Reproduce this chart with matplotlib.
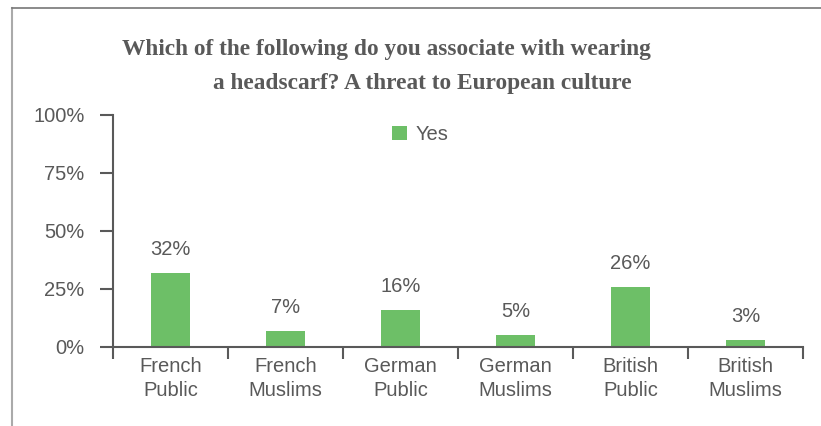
import numpy as np
from matplotlib import pyplot as plt
from matplotlib.lines import Line2D

categories = ["French\nPublic", "French\nMuslims", "German\nPublic",
              "German\nMuslims", "British\nPublic", "British\nMuslims"]
yes_values = [32, 7, 16, 5, 26, 3]
y_ticks = [0, 25, 50, 75, 100]
title_lines = ["Which of the following do you associate with wearing",
               "a headscarf? A threat to European culture"]

grey = "#595959"
green = "#6dbf67"

plt.rcParams['font.family'] = ['Liberation Sans', 'DejaVu Sans']

fig = plt.figure(figsize=(8.21, 4.26), dpi=100)
ax = fig.add_axes([113/821, 1 - 347/426, (803-113)/821, (347-115)/426])

x = np.arange(len(categories))
ax.bar(x, yes_values, width=0.34, color=green, label="Yes", zorder=2)

for xi, v in zip(x, yes_values):
    ax.text(xi, v + 6, f"{v}%", ha="center", va="bottom", fontsize=14.5, color=grey)

ax.set_xlim(-0.5, len(categories) - 0.5)
ax.set_ylim(0, 100)
ax.set_yticks(y_ticks)
ax.set_yticklabels([f"{t}%" for t in y_ticks], fontsize=14.5, color=grey)
ax.set_xticks(x)
ax.set_xticklabels(categories, fontsize=14.5, color=grey, linespacing=1.35)
ax.tick_params(axis="x", length=0, pad=7)
ax.tick_params(axis="y", length=9.5, width=1.5, color=grey, pad=11)

# tick marks between categories
ax.set_xticks(np.arange(-0.5, len(categories)), minor=True)
ax.tick_params(axis="x", which="minor", length=8.5, width=1.5, color=grey)

for side in ["top", "right"]:
    ax.spines[side].set_visible(False)
for side in ["left", "bottom"]:
    ax.spines[side].set_color(grey)
    ax.spines[side].set_linewidth(1.5)

ax.legend(loc="upper center", bbox_to_anchor=(0.445, 1.035), frameon=False,
          fontsize=14.5, labelcolor=grey, handlelength=0.75, handleheight=0.75,
          handletextpad=0.45)

# title, two lines placed as in the original
for line, cx, cy in zip(title_lines, [386, 422], [50, 83]):
    fig.text(cx/821, 1 - cy/426, line, ha="center", va="center", fontsize=16.8,
             fontweight="bold", color=grey, family=["Liberation Serif", "DejaVu Serif"])

# outer frame (left and top only)
fig.add_artist(Line2D([12/821, 12/821], [0, 1 - 8/426], color="#aaaaaa", lw=1.5))
fig.add_artist(Line2D([12/821, 1], [1 - 8/426, 1 - 8/426], color="#777777", lw=1.2))

plt.savefig("out.png", dpi=100)
